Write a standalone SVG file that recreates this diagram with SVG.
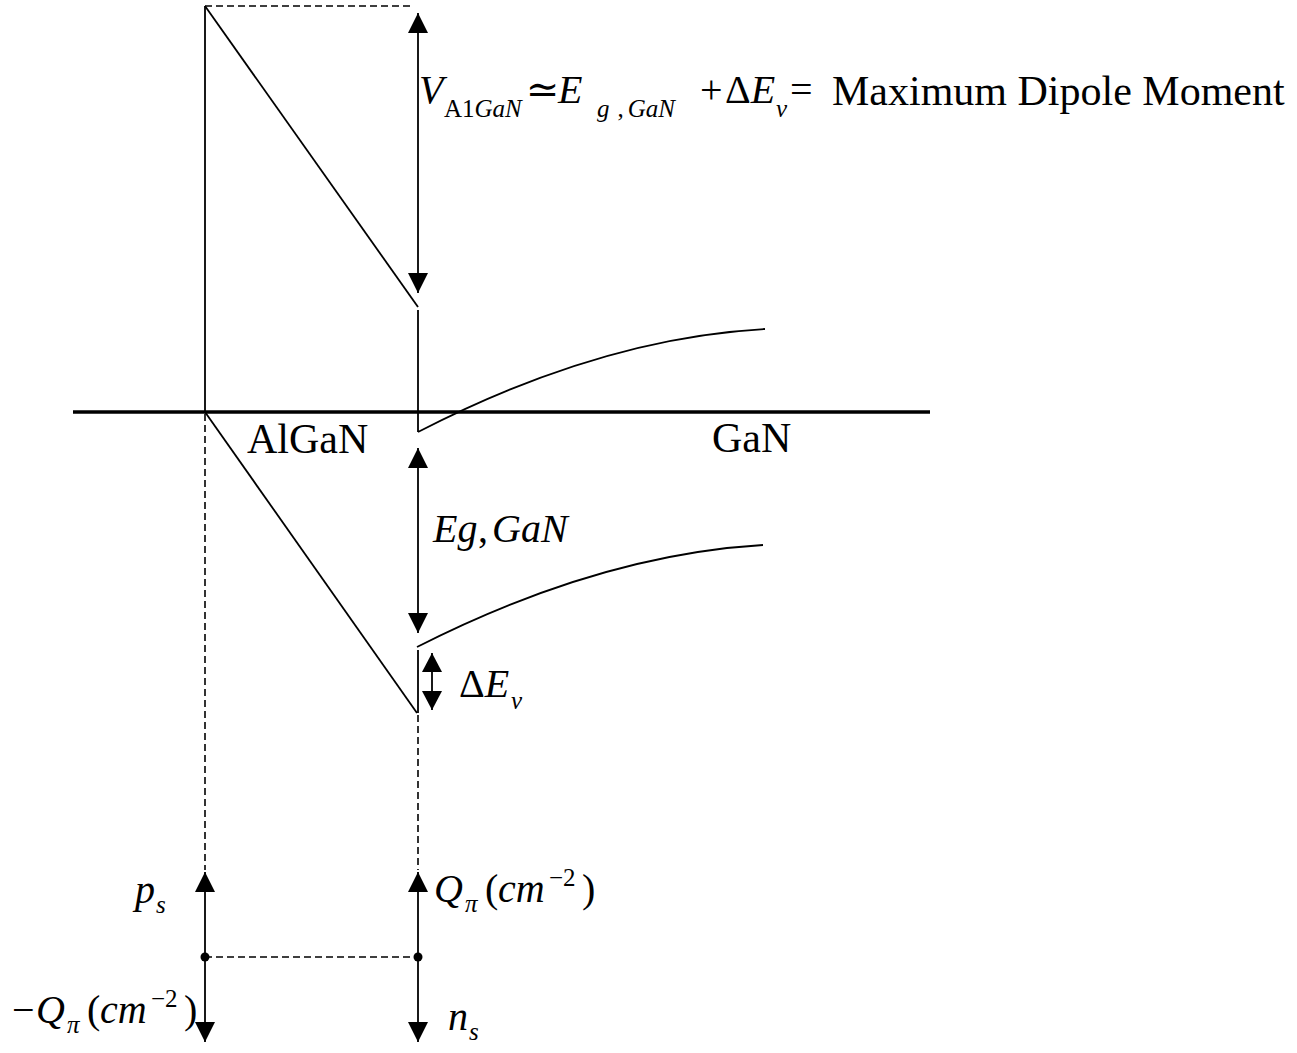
<svg xmlns="http://www.w3.org/2000/svg" width="1297" height="1053" viewBox="0 0 1297 1053">
<style>
.ln{stroke:#000;stroke-width:1.8;fill:none}
.dash{stroke:#000;stroke-width:1.6;fill:none;stroke-dasharray:7,4}
.axis{stroke:#000;stroke-width:3.5;fill:none}
.t{font-family:"Liberation Serif","Times New Roman","DejaVu Serif",serif;fill:#000}
.i{font-style:italic}
.big{font-size:42px}
.m{font-size:40px}
.s{font-size:25px}
</style>
<defs>
<marker id="ah" markerUnits="userSpaceOnUse" markerWidth="20" markerHeight="20" viewBox="0 0 20 20" refX="20" refY="10" orient="auto-start-reverse">
<path d="M0,0 L20,10 L0,20 z" fill="#000"/>
</marker>
<marker id="ahs" markerUnits="userSpaceOnUse" markerWidth="19" markerHeight="20" viewBox="0 0 19 20" refX="19" refY="10" orient="auto-start-reverse">
<path d="M0,0 L19,10 L0,20 z" fill="#000"/>
</marker>
</defs>
<rect width="1297" height="1053" fill="#fff"/>
<g id="bands">
<line class="axis" x1="73" y1="412" x2="930" y2="412"/>
<line class="ln" x1="205" y1="6" x2="205" y2="412"/>
<line class="ln" x1="205" y1="6" x2="418" y2="307"/>
<line class="ln" x1="418" y1="310" x2="418" y2="432"/>
<path class="ln" d="M418,432 Q600,338 765,329"/>
<line class="ln" x1="205" y1="412" x2="417" y2="713"/>
<line class="ln" x1="418" y1="650" x2="418" y2="713"/>
<path class="ln" d="M417,647 Q598,555 763,545"/>
</g>
<g id="connectors">
<line class="dash" x1="205" y1="6" x2="412" y2="6"/>
<line class="dash" x1="205" y1="414" x2="205" y2="870"/>
<line class="dash" x1="418" y1="715" x2="418" y2="870"/>
<line class="dash" x1="205" y1="957" x2="418" y2="957"/>
<line class="ln" x1="418" y1="13" x2="418" y2="293" marker-start="url(#ah)" marker-end="url(#ah)"/>
<line class="ln" x1="418" y1="448" x2="418" y2="633" marker-start="url(#ah)" marker-end="url(#ah)"/>
<line class="ln" x1="432" y1="653" x2="432" y2="710" marker-start="url(#ahs)" marker-end="url(#ahs)"/>
<line class="ln" x1="205" y1="957" x2="205" y2="872" marker-end="url(#ah)"/>
<line class="ln" x1="205" y1="957" x2="205" y2="1042" marker-end="url(#ah)"/>
<line class="ln" x1="418" y1="957" x2="418" y2="872" marker-end="url(#ah)"/>
<line class="ln" x1="418" y1="957" x2="418" y2="1042" marker-end="url(#ah)"/>
<circle cx="205" cy="957" r="4.5" fill="#000"/>
<circle cx="418" cy="957" r="4.5" fill="#000"/>
</g>
<g id="label-top">
<text class="t i m" x="419" y="103">V</text>
<text class="t s" x="444" y="117">A1<tspan class="i">GaN</tspan></text>
<text class="t m" x="526" y="103">≃</text>
<text class="t i m" x="558" y="103">E</text>
<text class="t s" x="597" y="117"><tspan class="i">g</tspan><tspan dx="8">,</tspan><tspan class="i" dx="4">GaN</tspan></text>
<text class="t m" x="700" y="103">+</text>
<text class="t m" x="725" y="103">Δ<tspan class="i">E</tspan></text>
<text class="t i s" x="776" y="117">v</text>
<text class="t m" x="790" y="103">=</text>
<text class="t big" x="832" y="105">Maximum Dipole Moment</text>
</g>
<g id="label-algan"><text class="t big" x="247" y="453">AlGaN</text></g>
<g id="label-gan"><text class="t big" x="712" y="452">GaN</text></g>
<g id="label-eg">
<text class="t i m" x="433" y="542">Eg</text>
<text class="t m" x="478" y="542">,</text>
<text class="t i m" x="492" y="542">GaN</text>
</g>
<g id="label-dev">
<text class="t m" x="459" y="697">Δ<tspan class="i">E</tspan></text>
<text class="t i s" x="511" y="709">v</text>
</g>
<g id="label-ps">
<text class="t i m" x="135" y="903">p</text>
<text class="t i s" x="156" y="913">s</text>
</g>
<g id="label-qpi">
<text class="t i m" x="434" y="902">Q</text>
<text class="t i s" x="465" y="912">π</text>
<text class="t m" x="485" y="902">(</text>
<text class="t i m" x="498" y="902">cm</text>
<text class="t s" x="549" y="886">−2</text>
<text class="t m" x="582" y="902">)</text>
</g>
<g id="label-negq">
<text class="t m" x="12" y="1023">−</text>
<text class="t i m" x="36" y="1023">Q</text>
<text class="t i s" x="67" y="1033">π</text>
<text class="t m" x="87" y="1023">(</text>
<text class="t i m" x="100" y="1023">cm</text>
<text class="t s" x="151" y="1007">−2</text>
<text class="t m" x="184" y="1023">)</text>
</g>
<g id="label-ns">
<text class="t i m" x="448" y="1030">n</text>
<text class="t i s" x="469" y="1040">s</text>
</g>
</svg>
